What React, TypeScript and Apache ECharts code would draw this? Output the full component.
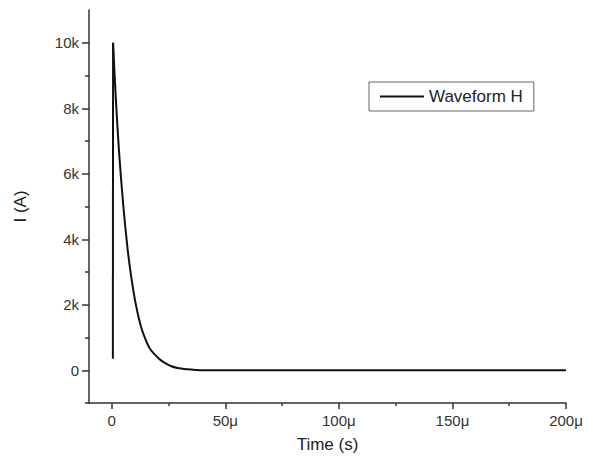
import React, { useEffect, useRef } from "react";
import * as echarts from "echarts";

// Time in microseconds, current in amperes
const riseTimeUs: number[] = [0.5, 0.6];
const riseCurrentA: number[] = [350, 10000];
const decayTimeUs: number[] = [0.6, 1.8, 3.2, 5.0, 7.0, 8.5, 10.5, 12.8, 15.0, 17.0, 20.7, 23.0, 26.0, 29.0, 33.4, 37.0, 40.0, 200.0];
const decayCurrentA: number[] = [10000, 8300, 6700, 5100, 3700, 2900, 2050, 1350, 920, 640, 360, 240, 130, 70, 30, 10, 0, 0];

const xMajorTicks: number[] = [0, 50, 100, 150, 200];
const xMinorTicks: number[] = [25, 75, 125, 175];
const yMajorTicks: number[] = [0, 2000, 4000, 6000, 8000, 10000];
const yMinorTicks: number[] = [-1000, 1000, 3000, 5000, 7000, 9000];

const seriesName = "Waveform H";
const xName = "Time (s)";
const yName = "I (A)";

const FONT = "Liberation Sans, Arial, sans-serif";

export default function App() {
  const ref = useRef<HTMLDivElement>(null);
  useEffect(() => {
    if (!ref.current) return;
    const chart = echarts.init(ref.current, null, { renderer: "svg" });
    const rise = riseTimeUs.map((t, i) => [t, riseCurrentA[i]]);
    const decay = decayTimeUs.map((t, i) => [t, decayCurrentA[i]]);
    const axisColor = "#333";
    const xFmt = (v: number) => (v === 0 ? "0" : `${v}μ`);
    const yFmt = (v: number) => (v === 0 ? "0" : `${v / 1000}k`);
    chart.setOption({
      animation: false,
      backgroundColor: "#fff",
      grid: { left: 89, right: 27, top: 10, bottom: 63 },
      legend: {
        left: 369,
        top: 82,
        orient: "horizontal",
        padding: [6, 11, 6, 11],
        borderColor: "#666",
        borderWidth: 1,
        itemWidth: 44,
        itemHeight: 2,
        icon: "rect",
        textStyle: { fontFamily: FONT, fontSize: 17, color: "#222" },
        data: [seriesName],
      },
      xAxis: [
        {
          type: "value",
          min: -10,
          max: 200,
          name: xName,
          nameLocation: "middle",
          nameGap: 33,
          nameTextStyle: { fontFamily: FONT, fontSize: 17, color: "#222" },
          splitLine: { show: false },
          axisLine: { show: true, onZero: false, lineStyle: { color: axisColor, width: 1.5 } },
          axisTick: { show: true, inside: false, length: 6, customValues: xMajorTicks, lineStyle: { color: axisColor, width: 1.5 } },
          axisLabel: { customValues: xMajorTicks, formatter: xFmt, margin: 10, fontFamily: FONT, fontSize: 15, color: "#333" },
        },
        {
          type: "value",
          min: -10,
          max: 200,
          position: "bottom",
          splitLine: { show: false },
          axisLine: { show: false, onZero: false },
          axisTick: { show: true, inside: false, length: 3, customValues: xMinorTicks, lineStyle: { color: axisColor, width: 1.5 } },
          axisLabel: { show: false },
        },
      ],
      yAxis: [
        {
          type: "value",
          min: -1000,
          max: 11000,
          name: yName,
          nameLocation: "middle",
          nameGap: 60,
          nameTextStyle: { fontFamily: FONT, fontSize: 17, color: "#222" },
          splitLine: { show: false },
          axisLine: { show: true, onZero: false, lineStyle: { color: axisColor, width: 1.5 } },
          axisTick: { show: true, inside: false, length: 7, customValues: yMajorTicks, lineStyle: { color: axisColor, width: 1.5 } },
          axisLabel: { customValues: yMajorTicks, formatter: yFmt, margin: 10, fontFamily: FONT, fontSize: 15, color: "#333" },
        },
        {
          type: "value",
          min: -1000,
          max: 11000,
          position: "left",
          splitLine: { show: false },
          axisLine: { show: false, onZero: false },
          axisTick: { show: true, inside: false, length: 4, customValues: yMinorTicks, lineStyle: { color: axisColor, width: 1.5 } },
          axisLabel: { show: false },
        },
      ],
      series: [
        {
          name: seriesName,
          type: "line",
          xAxisIndex: 0,
          yAxisIndex: 0,
          data: rise,
          symbol: "none",
          smooth: false,
          lineStyle: { color: "#111", width: 2 },
          itemStyle: { color: "#111" },
        },
        {
          name: seriesName,
          type: "line",
          xAxisIndex: 0,
          yAxisIndex: 0,
          data: decay,
          symbol: "none",
          smooth: 0.3,
          lineStyle: { color: "#111", width: 2 },
          itemStyle: { color: "#111" },
        },
      ],
    });
    return () => chart.dispose();
  }, []);
  return <div ref={ref} style={{ width: 593, height: 466, position: "absolute", left: 0, top: 0 }} />;
}
